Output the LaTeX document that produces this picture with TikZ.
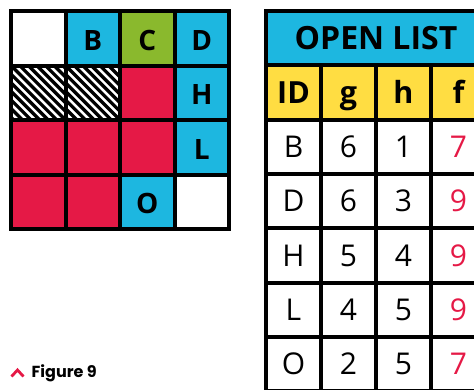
\documentclass[tikz,border=0pt]{standalone}
\usepackage{fontspec}
\setmainfont{Open Sans}
\newfontfamily\capfont{Poppins}
\usetikzlibrary{calc}
\definecolor{cy}{RGB}{29,183,224}
\definecolor{gr}{RGB}{138,185,45}
\definecolor{rd}{RGB}{229,25,70}
\definecolor{yl}{RGB}{255,221,66}
\tikzset{
  cell/.style={draw=black, line width=4pt, minimum width=54.5pt, minimum height=54.5pt,
    inner sep=0pt, outer sep=0pt, text height=20pt, text depth=0pt,
    font=\fontsize{28}{30}\selectfont\bfseries},
  lcell/.style={cell, label={[font=\fontsize{28}{30}\selectfont\bfseries, text height=20pt, text depth=0pt, inner sep=0pt, yshift=-2pt]center:#1}},
  hatch/.style={cell, fill=white, path picture={
      \foreach \i in {-9,...,9}
        \draw[line width=3.3pt] ($(path picture bounding box.center)+(\i*8.6,0)+(-45,-45)$) -- ++(90,90);
    }},
  tcell/.style={draw=black, line width=4pt, minimum width=55pt, minimum height=54.3pt,
    inner sep=0pt, outer sep=0pt, text height=21.4pt, text depth=0pt,
    font=\fontsize{30}{32}\selectfont},
  thead/.style={tcell, fill=yl, text height=22pt, font=\fontsize{30.5}{33}\selectfont\bfseries},
  ttitle/.style={tcell, fill=cy, minimum width=220pt, text height=22.8pt,
    font=\fontsize{32}{34}\selectfont\bfseries},
  fval/.style={tcell, text=rd}
}
\begin{document}
\begin{tikzpicture}[x=1pt,y=-1pt]
\useasboundingbox (0,0) rectangle (474,389);
\clip (0,0) rectangle (474,389);
% grid
\def\gx#1{11+54.5*#1+27.25}
\node[cell, fill=white] (g00) at ({\gx0},{\gx0}) {};
\node[lcell=B, fill=cy] (g01) at ({\gx1},{\gx0}) {};
\node[lcell=C, fill=gr] (g02) at ({\gx2},{\gx0}) {};
\node[lcell=D, fill=cy] (g03) at ({\gx3},{\gx0}) {};
\node[hatch] (g10) at ({\gx0},{\gx1}) {};
\node[hatch] (g11) at ({\gx1},{\gx1}) {};
\node[cell, fill=rd] (g12) at ({\gx2},{\gx1}) {};
\node[lcell=H, fill=cy] (g13) at ({\gx3},{\gx1}) {};
\node[cell, fill=rd] (g20) at ({\gx0},{\gx2}) {};
\node[cell, fill=rd] (g21) at ({\gx1},{\gx2}) {};
\node[cell, fill=rd] (g22) at ({\gx2},{\gx2}) {};
\node[lcell=L, fill=cy] (g23) at ({\gx3},{\gx2}) {};
\node[cell, fill=rd] (g30) at ({\gx0},{\gx3}) {};
\node[cell, fill=rd] (g31) at ({\gx1},{\gx3}) {};
\node[lcell=O, fill=cy] (g32) at ({\gx2},{\gx3}) {};
\node[cell, fill=white] (g33) at ({\gx3},{\gx3}) {};
% table
\def\tx#1{266+55*#1+27.5}
\def\ty#1{11+54.3*#1+27.15}
\node[ttitle] (title) at (376,{\ty0}) {OPEN LIST};
\node[thead] (hid) at ({\tx0},{\ty1}) {ID};
\node[thead] (hg) at ({\tx1},{\ty1}) {g};
\node[thead] (hh) at ({\tx2},{\ty1}) {h};
\node[thead] (hf) at ({\tx3},{\ty1}) {f};
\foreach \id/\g/\h/\f [count=\r from 2] in {B/6/1/7, D/6/3/9, H/5/4/9, L/4/5/9, O/2/5/7}{
  \node[tcell] (id\r) at ({\tx0},{\ty\r}) {\id};
  \node[tcell] (gv\r) at ({\tx1},{\ty\r}) {\g};
  \node[tcell] (hv\r) at ({\tx2},{\ty\r}) {\h};
  \node[fval] (fv\r) at ({\tx3},{\ty\r}) {\f};
}
% caption
\draw[rd, line width=2.8pt] (11.5,376.5) -- (17.5,370) -- (23.5,376.5);
\node[anchor=west, inner sep=0pt, font=\capfont\fontsize{16}{18}\selectfont\bfseries] (cap) at (31.5,373) {Figure 9};
\end{tikzpicture}
\end{document}
